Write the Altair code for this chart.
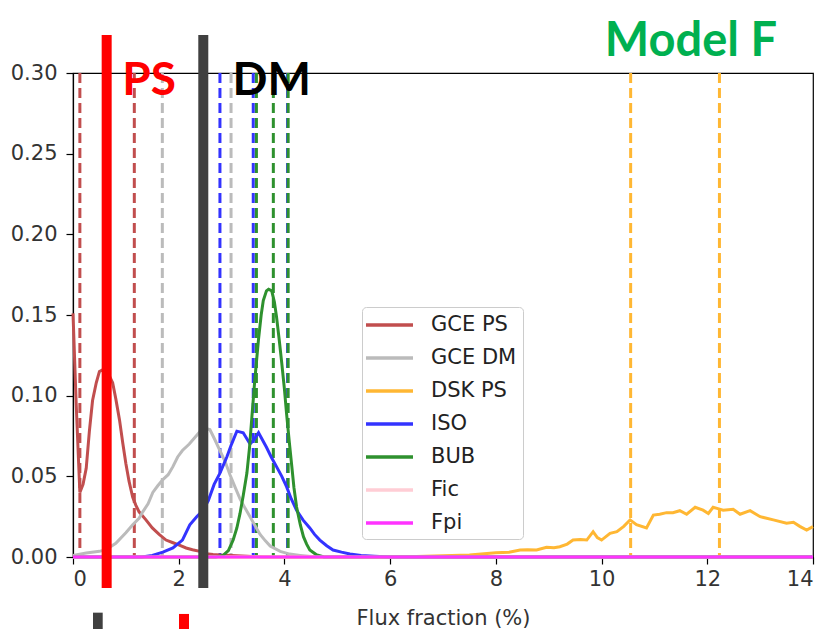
import altair as alt
import pandas as pd

# ---------------- data ----------------
series = ["GCE PS", "GCE DM", "DSK PS", "ISO", "BUB", "Fic", "Fpi"]
colors = ["#c14e4e", "#bbbbbb", "#ffb733", "#3333ff", "#2e912e", "#ffcdd5", "#ff33ff"]

gce_ps_x = [0, 0.06, 0.13, 0.19, 0.25, 0.31, 0.37, 0.44, 0.50, 0.56, 0.62, 0.69, 0.75, 0.81, 0.88,
            0.94, 1.00, 1.06, 1.13, 1.19, 1.25, 1.38, 1.50, 1.63, 1.76, 1.88, 2.00, 2.14, 2.26, 2.40,
            2.52, 2.65, 2.78, 3.0, 3.3, 3.6, 14]
gce_ps_y = [0.151, 0.095, 0.040, 0.045, 0.055, 0.078, 0.097, 0.108, 0.115, 0.116, 0.114, 0.112, 0.108,
            0.098, 0.085, 0.071, 0.058, 0.047, 0.037, 0.032, 0.028, 0.023, 0.018, 0.014, 0.0105, 0.009,
            0.0075, 0.0056, 0.0045, 0.0035, 0.002, 0.0015, 0.0012, 0.001, 0.0005, 0.0, 0.0]

gce_dm_x = [0, 0.25, 0.5, 0.62, 0.81, 1.0, 1.13, 1.25, 1.32, 1.42, 1.51, 1.60, 1.70, 1.80, 1.89, 1.98,
            2.07, 2.20, 2.33, 2.46, 2.59, 2.68, 2.78, 2.88, 2.97, 3.07, 3.16, 3.26, 3.35, 3.45, 3.54,
            3.64, 3.73, 3.92, 4.1, 4.3, 4.6, 14]
gce_dm_y = [0.001, 0.0025, 0.0035, 0.0045, 0.0085, 0.015, 0.020, 0.024, 0.028, 0.033, 0.040, 0.044,
            0.048, 0.051, 0.056, 0.062, 0.066, 0.070, 0.075, 0.080, 0.079, 0.073, 0.066, 0.059, 0.051,
            0.043, 0.036, 0.030, 0.025, 0.019, 0.014, 0.010, 0.0068, 0.0035, 0.0018, 0.001, 0.0, 0.0]

dsk_ps_x = [0, 6.0, 6.5, 7.0, 7.5, 8.0, 8.25, 8.46, 8.6, 8.77, 8.96, 9.1, 9.21, 9.35, 9.46, 9.6, 9.72,
            9.84, 9.92, 10.0, 10.16, 10.29, 10.42, 10.54, 10.66, 10.85, 10.98, 11.1, 11.23, 11.35,
            11.48, 11.61, 11.77, 11.92, 12.02, 12.11, 12.2, 12.30, 12.49, 12.62, 12.81, 13.0, 13.25,
            13.5, 13.63, 13.75, 13.88, 14.0]
dsk_ps_y = [0, 0, 0.0003, 0.0008, 0.0012, 0.0027, 0.003, 0.0043, 0.0045, 0.0043, 0.006, 0.0058, 0.0064,
            0.008, 0.0105, 0.0108, 0.0105, 0.0157, 0.012, 0.0105, 0.0147, 0.0157, 0.019, 0.023, 0.020,
            0.018, 0.026, 0.0265, 0.0275, 0.0275, 0.0287, 0.0265, 0.0308, 0.029, 0.027, 0.0308, 0.030,
            0.029, 0.0296, 0.0265, 0.0287, 0.025, 0.023, 0.021, 0.0215, 0.019, 0.0167, 0.0188]

iso_x = [0, 1.3, 1.5, 1.7, 1.89, 2.07, 2.21, 2.34, 2.46, 2.56, 2.67, 2.78, 2.91, 3.0, 3.10, 3.22, 3.35,
         3.43, 3.51, 3.66, 3.75, 3.85, 3.95, 4.04, 4.13, 4.23, 4.35, 4.48, 4.57, 4.67, 4.8, 4.92, 5.08,
         5.24, 5.45, 5.7, 6.0, 14]
iso_y = [0, 0, 0.001, 0.003, 0.0056, 0.0105, 0.020, 0.025, 0.029, 0.035, 0.045, 0.052, 0.062, 0.070,
         0.078, 0.077, 0.070, 0.073, 0.077, 0.068, 0.062, 0.056, 0.050, 0.0436, 0.036, 0.029, 0.023,
         0.018, 0.014, 0.0105, 0.007, 0.0043, 0.003, 0.0019, 0.001, 0.0005, 0.0, 0.0]

bub_x = [0, 2.7, 2.84, 2.94, 3.03, 3.10, 3.16, 3.22, 3.29, 3.34, 3.38, 3.44, 3.51, 3.56, 3.60, 3.66,
         3.70, 3.76, 3.81, 3.85, 3.90, 3.95, 4.00, 4.04, 4.09, 4.14, 4.18, 4.23, 4.30, 4.36, 4.42, 4.48,
         4.6, 4.75, 14]
bub_y = [0, 0, 0.001, 0.004, 0.0105, 0.018, 0.027, 0.038, 0.052, 0.068, 0.085, 0.110, 0.135, 0.150,
         0.159, 0.165, 0.166, 0.165, 0.158, 0.149, 0.135, 0.120, 0.104, 0.089, 0.072, 0.056, 0.043,
         0.031, 0.020, 0.0126, 0.008, 0.0043, 0.0015, 0.0, 0.0]

fic_x = [0, 14]
fic_y = [0, 0]
fpi_x = [0, 14]
fpi_y = [0, 0]

# dashed percentile lines (x positions)
dash_gce_ps = [0.13, 1.16]
dash_gce_dm = [1.69, 2.99]
dash_dsk_ps = [10.55, 12.23]
dash_iso = [2.78, 3.41, 4.06]
dash_bub = [3.47, 3.79, 4.07]

# annotation bars (x, y-from, y-to) and small markers below axis
bar_labels = ["PS", "DM"]
bar_x = [0.637, 2.465]
bar_y_top = [0.3236, 0.3236]
bar_y_bot = [-0.0192, -0.0192]
bar_colors = ["#ff0000", "#404040"]

marker_x1 = [0.378, 2.005]
marker_x2 = [0.562, 2.195]
marker_y1 = [-0.0345, -0.0353]
marker_y2 = [-0.046, -0.046]
marker_colors = ["#404040", "#ff0000"]

ann_text = ["PS", "DM", "Model F"]
ann_x = [1.44, 3.76, 11.69]
ann_y = [0.2864, 0.2864, 0.3105]
ann_colors = ["#ff0000", "#000000", "#00b050"]
ann_sizes = [46, 46, 47]

x_ticks = [0, 2, 4, 6, 8, 10, 12, 14]
y_ticks = [0.0, 0.05, 0.10, 0.15, 0.20, 0.25, 0.30]

# ---------------- build ----------------
curve_xs = [gce_ps_x, gce_dm_x, dsk_ps_x, iso_x, bub_x, fic_x, fpi_x]
curve_ys = [gce_ps_y, gce_dm_y, dsk_ps_y, iso_y, bub_y, fic_y, fpi_y]
rows = []
for order, (name, xs, ys) in enumerate(zip(series, curve_xs, curve_ys)):
    for xv, yv in zip(xs, ys):
        rows.append({"series": name, "x": xv, "y": yv, "order": order})
curves_df = pd.DataFrame(rows)

FONT = "DejaVu Sans"
xscale = alt.Scale(domain=[0, 14], nice=False, zero=False)
yscale = alt.Scale(domain=[0, 0.30], nice=False, zero=False)

dash_lists = [dash_gce_ps, dash_gce_dm, dash_dsk_ps, dash_iso, dash_bub]
dash_layers = []
for name, col, xs in zip(series[:5], colors[:5], dash_lists):
    d = pd.DataFrame({"x": xs})
    dash_layers.append(
        alt.Chart(d).mark_rule(color=col, strokeWidth=3, strokeDash=[10, 5]).encode(
            x=alt.X("x:Q", scale=xscale)
        )
    )

curves = alt.Chart(curves_df).mark_line(strokeWidth=3).encode(
    x=alt.X("x:Q", scale=xscale,
            axis=alt.Axis(values=x_ticks, title="Flux fraction (%)", format="d")),
    y=alt.Y("y:Q", scale=yscale,
            axis=alt.Axis(values=y_ticks, title=None, format=".2f")),
    color=alt.Color("series:N",
                    scale=alt.Scale(domain=series, range=colors),
                    legend=alt.Legend(
                        title=None, orient="none", legendX=289, legendY=234,
                        symbolType="M-1.4,0L3.3,0", symbolSize=400, symbolStrokeWidth=3.5,
                        labelFont=FONT, labelFontSize=21, labelColor="#222222",
                        labelOffset=39, padding=6, rowPadding=11,
                        strokeColor="#cccccc", fillColor="white", cornerRadius=4,
                    )),
    order=alt.Order("order:Q"),
    detail="series:N",
)

bars_df = pd.DataFrame({"label": bar_labels, "x": bar_x, "y": bar_y_top, "y2": bar_y_bot,
                        "c": bar_colors})
bar_layers = []
for _, r in bars_df.iterrows():
    bar_layers.append(
        alt.Chart(pd.DataFrame([r])).mark_rule(color=r["c"], strokeWidth=10, clip=False).encode(
            x=alt.X("x:Q", scale=xscale), y=alt.Y("y:Q", scale=yscale), y2="y2:Q"
        )
    )

marker_layers = []
for x1, x2, y1, y2, c in zip(marker_x1, marker_x2, marker_y1, marker_y2, marker_colors):
    d = pd.DataFrame({"x": [x1], "x2": [x2], "y": [y1], "y2": [y2]})
    marker_layers.append(
        alt.Chart(d).mark_rect(color=c, clip=False).encode(
            x=alt.X("x:Q", scale=xscale), x2="x2:Q",
            y=alt.Y("y:Q", scale=yscale), y2="y2:Q"
        )
    )

text_layers = []
for t, tx, ty, c, s in zip(ann_text, ann_x, ann_y, ann_colors, ann_sizes):
    d = pd.DataFrame({"t": [t], "x": [tx], "y": [ty]})
    text_layers.append(
        alt.Chart(d).mark_text(color=c, fontSize=s, font="Lato", fontWeight="bold",
                               baseline="alphabetic", align="center", clip=False).encode(
            x=alt.X("x:Q", scale=xscale), y=alt.Y("y:Q", scale=yscale), text="t:N"
        )
    )

chart = alt.layer(*dash_layers, curves, *bar_layers, *marker_layers, *text_layers).properties(
    width=740, height=484,
    autosize=alt.AutoSizeParams(type="none"),
    padding={"left": 65, "top": 65, "right": 4, "bottom": 72},
).configure_view(
    stroke="#000000", strokeWidth=1.2
).configure_axis(
    grid=False, domainColor="#000000", tickColor="#000000", tickSize=7,
    labelFont=FONT, labelFontSize=21, labelColor="#333333",
    titleFont=FONT, titleFontSize=21, titleFontWeight="normal", titleColor="#333333",
    domainWidth=1.2, tickWidth=1.2,
).configure_axisX(
    labelPadding=4, titleY=67, titleBaseline="alphabetic"
).configure_axisY(
    labelPadding=9
)

chart.save("out.html", embed_options={"renderer": "svg", "actions": False})
